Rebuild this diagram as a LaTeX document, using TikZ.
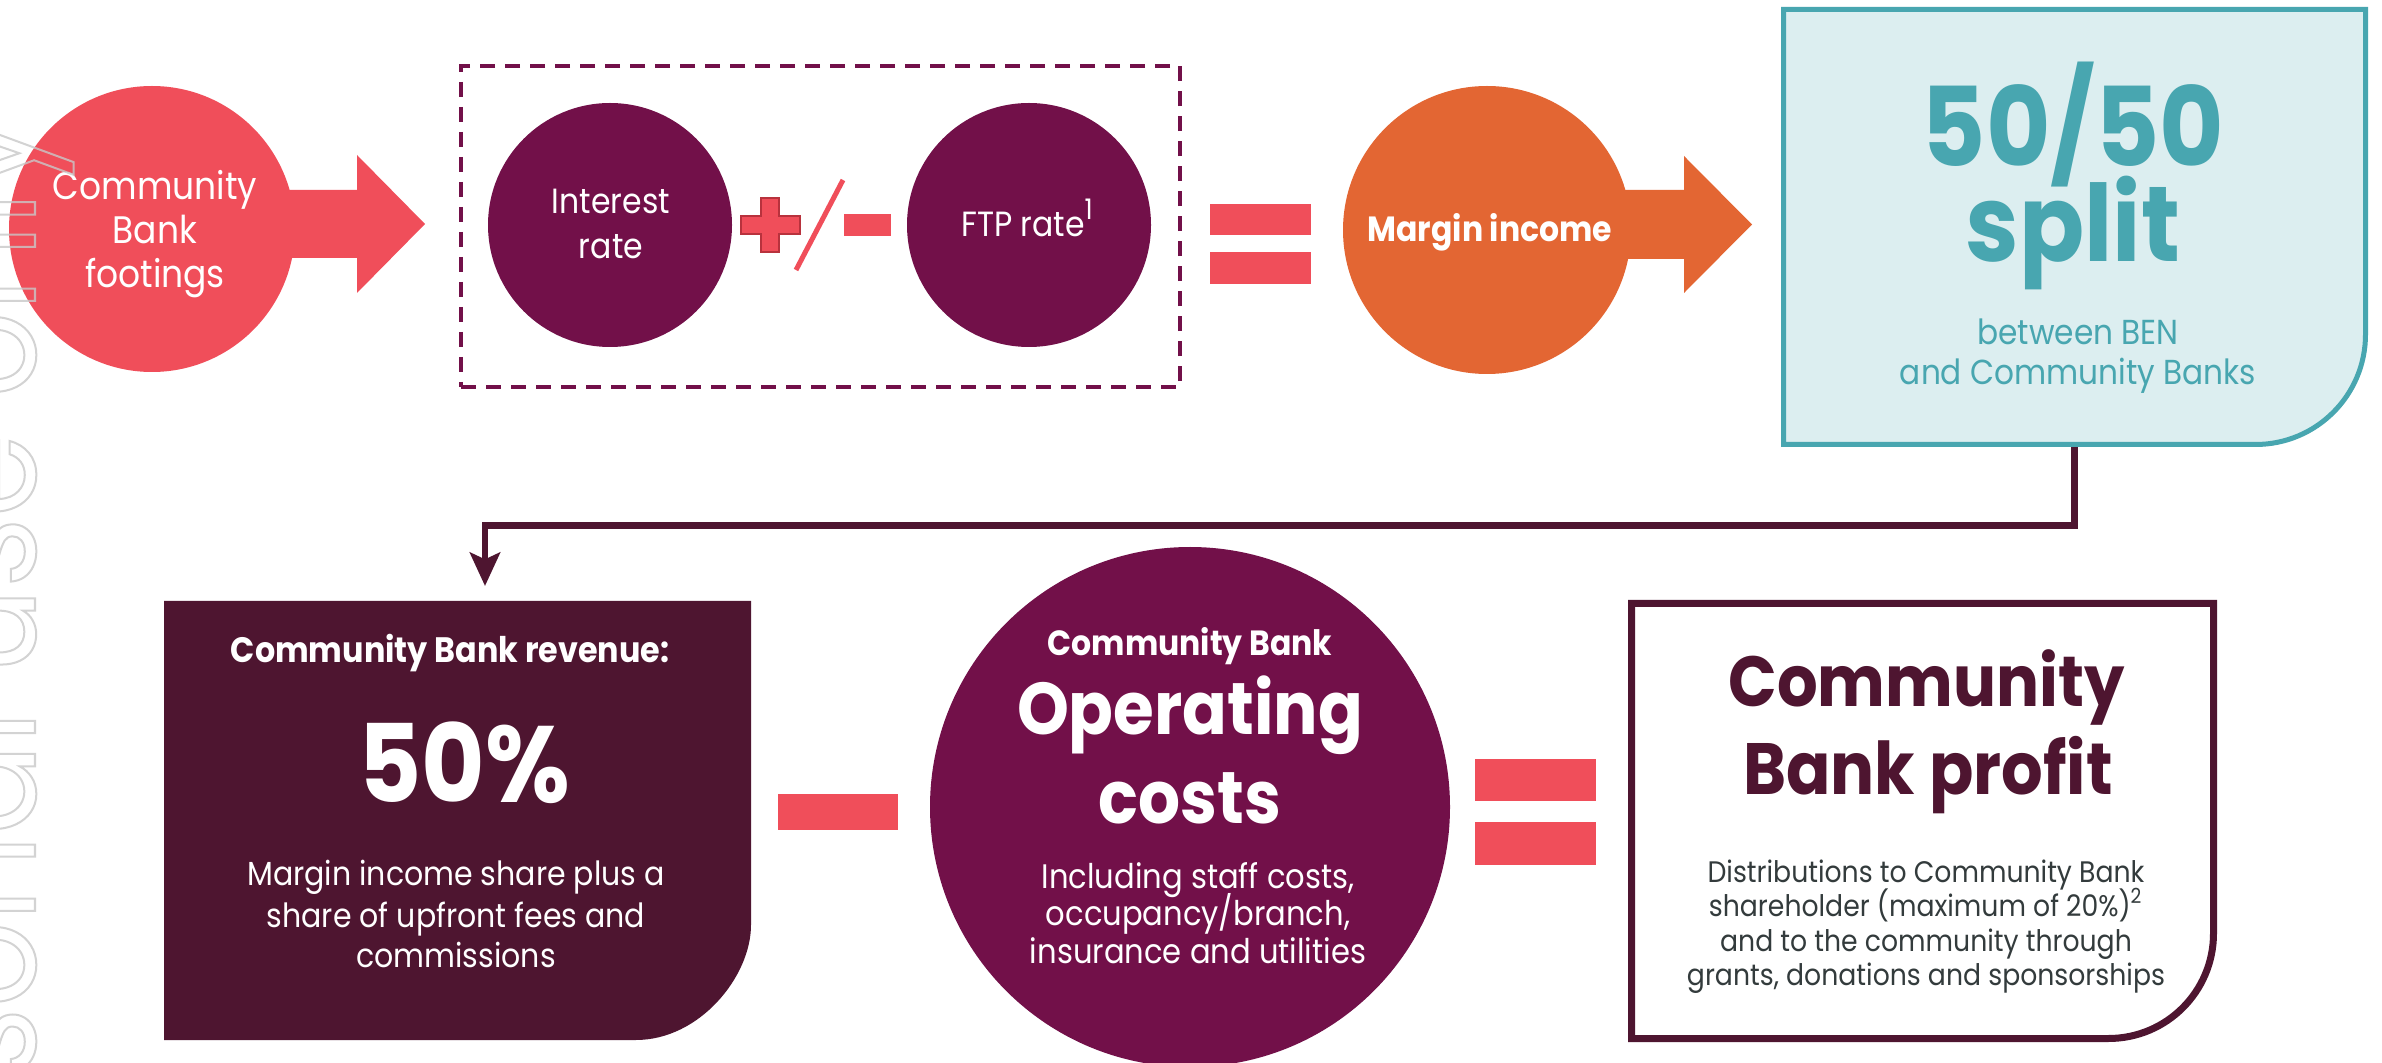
\documentclass[tikz,border=0pt]{standalone}
\usepackage{fontspec}
\setmainfont{Poppins}[FakeStretch=0.9]
\usetikzlibrary{arrows.meta}
\definecolor{coral}{HTML}{F04E5A}
\definecolor{coraldk}{HTML}{B8323D}
\definecolor{plum}{HTML}{721049}
\definecolor{orng}{HTML}{E36633}
\definecolor{tealc}{HTML}{48A6B0}
\definecolor{ice}{HTML}{DCEEF0}
\definecolor{maroonc}{HTML}{4E1530}
\definecolor{inkc}{HTML}{333B3C}
\definecolor{wmgray}{HTML}{C8C8C8}
\def\pxu{0.3pt}
\newcommand\fsz[1]{\fontsize{#1}{#1}\selectfont}
\begin{document}
\begin{tikzpicture}[x=0.3pt,y=-0.3pt,
  blob/.style={circle, inner sep=0, minimum size=#1*\pxu},
  ghost/.style={inner sep=0, outer sep=0},
  wt/.style={anchor=base, inner sep=0, text=white},
  tt/.style={anchor=base, inner sep=0, text=tealc},
  mt/.style={anchor=base, inner sep=0, text=maroonc},
  kt/.style={anchor=base, inner sep=0, text=inkc},
  bar/.style={fill=coral},
  conn/.style={draw=maroonc, line width=2pt, -{Stealth[length=10pt,width=9pt,inset=2pt]}}
]
\useasboundingbox (0,0) rectangle (2382,1063);
\fill[white] (0,0) rectangle (2382,1063);

% ---------- top row ----------
% Community Bank footings
\node[blob=286, fill=coral] (ftg) at (152,229) {};
\fill[coral] (270,190) -- (357,190) -- (357,155) -- (425,224) -- (357,293) -- (357,258) -- (270,258) -- cycle;
\node[wt, font=\fsz{11.5}] (ftg1) at (155,200) {Community};
\node[wt, font=\fsz{11.5}] (ftg2) at (155,244) {Bank};
\node[wt, font=\fsz{11.5}] (ftg3) at (155,288) {footings};

% dashed group
\node[ghost, draw=plum, line width=1.2pt, dash pattern=on 4.5pt off 3pt,
      minimum width=719*\pxu, minimum height=321*\pxu] (pair) at (820.5,226.5) {};
\node[blob=244, fill=plum] (irate) at (610,225) {};
\node[blob=244, fill=plum] (ftp) at (1029,225) {};
\node[wt, font=\fsz{10.5}] (irate1) at (611,214) {Interest};
\node[wt, font=\fsz{10.5}] (irate2) at (611,259) {rate};
\node[wt, font=\fsz{10.5}] (ftp1) at (1027,237) {FTP rate{\fsz{8.5}\raisebox{1.1ex}{1}}};
% plus / minus
\filldraw[fill=coral, draw=coraldk, line width=0.5pt]
  (761,198) -- (779,198) -- (779,216) -- (800,216) -- (800,234) -- (779,234) -- (779,252)
  -- (761,252) -- (761,234) -- (741,234) -- (741,216) -- (761,216) -- cycle;
\draw[coral, line width=1.5pt] (796,270) -- (843,180);
\fill[bar] (844,214) rectangle (891,236);

% equals
\fill[bar] (1210,204) rectangle (1311,235);
\fill[bar] (1210,252) rectangle (1311,284);

% Margin income
\node[blob=288, fill=orng] (margin) at (1487,230) {};
\fill[orng] (1600,190) -- (1684,190) -- (1684,156) -- (1752,224.5) -- (1684,293) -- (1684,259) -- (1600,259) -- cycle;
\node[wt, font=\bfseries\fsz{10.5}] (margin1) at (1490,242) {Margin income};

% 50/50 split box
\node[ghost, minimum width=587*\pxu, minimum height=440*\pxu] (split) at (2074.5,227) {};
\filldraw[fill=ice, draw=tealc, line width=1.5pt]
  (1783.5,9.5) -- (2365.5,9.5) -- (2365.5,334.5)
  .. controls (2365.5,395.3) and (2316.3,444.5) .. (2255.5,444.5)
  -- (1783.5,444.5) -- cycle;
\node[tt, font=\bfseries\fsz{33}] (split1) at (2073,167) {50/50};
\node[tt, font=\bfseries\fsz{32}] (split2) at (2073,262) {split};
\node[tt, font=\fsz{10.4}] (split3) at (2078,345) {between BEN};
\node[tt, font=\fsz{10.4}] (split4) at (2078,385) {and Community Banks};

% ---------- bottom row ----------
% revenue box
\node[ghost, minimum width=587*\pxu, minimum height=439*\pxu] (rev) at (457.5,820.5) {};
\fill[maroonc] (164,601) -- (751,601) -- (751,925)
  .. controls (751,976.5) and (699.5,1040) .. (636,1040) -- (164,1040) -- cycle;
\node[wt, font=\bfseries\fsz{10.6}] (rev1) at (450,662) {Community Bank revenue:};
\node[wt, font=\bfseries\fsz{32.5}] (rev2) at (464,802) {50\%};
\node[wt, font=\fsz{10}] (rev3) at (456,885) {Margin income share plus a};
\node[wt, font=\fsz{10}] (rev4) at (456,927) {share of upfront fees and};
\node[wt, font=\fsz{10}] (rev5) at (456,967) {commissions};

% connector
\coordinate (turn) at (485,525.5);
\draw[conn, shorten >=4.5pt] (split.south) |- (turn) -- (turn |- rev.north);

% minus
\fill[bar] (778,794) rectangle (898,830);

% operating costs
\node[blob=520, fill=plum] (opc) at (1190,807) {};
\node[wt, font=\bfseries\fsz{10.5}] (opc1) at (1190,656) {Community Bank};
\node[wt, font=\bfseries\fsz{22}] (opc2) at (1190,735) {Operating};
\node[wt, font=\bfseries\fsz{22}] (opc3) at (1190,823) {costs};
\node[wt, font=\fsz{10.2}] (opc4) at (1198,888) {Including staff costs,};
\node[wt, font=\fsz{10.2}] (opc5) at (1198,925) {occupancy/branch,};
\node[wt, font=\fsz{10.2}] (opc6) at (1198,963) {insurance and utilities};

% equals
\fill[bar] (1475,759) rectangle (1596,801);
\fill[bar] (1475,822) rectangle (1596,865);

% profit box
\node[ghost, minimum width=589*\pxu, minimum height=442*\pxu] (profit) at (1922.5,821) {};
\filldraw[fill=white, draw=maroonc, line width=2.1pt]
  (1631.5,603.5) -- (2213.5,603.5) -- (2213.5,933.5)
  .. controls (2213.5,991.5) and (2166.5,1038.5) .. (2108.5,1038.5)
  -- (1631.5,1038.5) -- cycle;
\node[mt, font=\bfseries\fsz{21.3}] (profit1) at (1926.5,707) {Community};
\node[mt, font=\bfseries\fsz{21.8}] (profit2) at (1928,795) {Bank profit};
\node[kt, font=\fsz{8.9}] (profit3) at (1926,882) {Distributions to Community Bank};
\node[kt, font=\fsz{8.9}] (profit4) at (1926,916) {shareholder (maximum of 20\%)\textsuperscript{2}};
\node[kt, font=\fsz{8.9}] (profit5) at (1926,951) {and to the community through};
\node[kt, font=\fsz{8.9}] (profit6) at (1926,985) {grants, donations and sponsorships};

% watermark
\node[rotate=90, anchor=base east, inner sep=0, text=wmgray, opacity=0.8, font=\fsz{45}] (wmark) at (35,115)
  {\special{pdf:literal direct 1 Tr 0.6 w}For personal use only\special{pdf:literal direct 0 Tr}};
\end{tikzpicture}
\end{document}
